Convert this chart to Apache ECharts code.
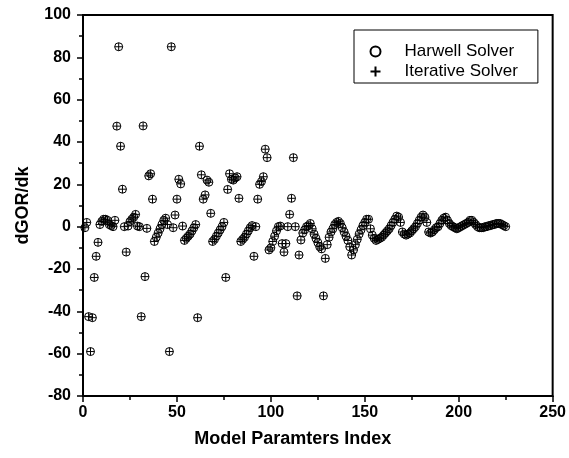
<!DOCTYPE html>
<html>
<head>
<meta charset="utf-8">
<script src="https://cdn.jsdelivr.net/npm/echarts@6/dist/echarts.min.js"></script>
<style>
html,body{margin:0;padding:0;background:#fff;}
#chart{width:569px;height:458px;}
</style>
</head>
<body>
<div id="chart"></div>
<script>
// dGOR/dk values, in index order 1..225 (15 groups of 15)
const group01 = [-0.5, 2, -42.5, -59, -43, -24, -14, -7.4, 1, 2.5, 3.5, 3.5, 3, 1, 0.5];
const group02 = [0, 3, 47.5, 85, 38, 17.7, 0, -12, 0.3, 2.4, 3.5, 4.5, 5.8, 0.3, 0];
const group03 = [-42.5, 47.6, -23.6, -0.8, 24, 25, 13, -7, -5, -3, -1, 1, 3, 4, 1];
const group04 = [-59, 85, -0.5, 5.5, 13, 22.4, 20.2, 0.3, -6.5, -5.5, -4.5, -3.5, -2, -0.5, 1];
const group05 = [-43, 38, 24.5, 13, 15, 22, 21, 6.3, -7, -6, -4.5, -3, -1.5, 0, 2];
const group06 = [-24, 17.6, 25, 22.4, 22, 23, 23.6, 13.4, -7, -6, -5, -3.5, -2, -0.5, 0.5];
const group07 = [-14, 0, 13, 20, 21.3, 23.6, 36.6, 32.6, -11, -10, -7, -4.5, -2, 0, 0.3];
const group08 = [-8, -12, -8, 0, 5.8, 13.4, 32.6, 0, -32.7, -13.4, -6.3, -3, -1.5, 0, 0.5];
const group09 = [1.5, -1, -3.5, -5.5, -7.5, -9.5, -10.5, -32.7, -15, -8.5, -5, -2.5, -1, 1, 2];
const group10 = [2.5, 1.5, -0.5, -2.5, -4.5, -6.5, -9.5, -13.4, -11, -8.5, -6, -3.5, -1.5, 0.5, 2];
const group11 = [3.5, 3.5, -1, -4, -5.5, -6.5, -6, -5.5, -5, -4, -3, -2, -1, 0.5, 2];
const group12 = [3.5, 5, 4.5, 2, -2.5, -3.5, -4, -3.5, -3, -2, -1, 0, 1.5, 3, 4.5];
const group13 = [5.5, 4.5, 2, -2.5, -3, -2.5, -1.5, -0.5, 0, 1.5, 3, 4, 4.5, 3, 1.5];
const group14 = [0.5, 0, -0.5, -1, -0.5, 0, 0.5, 1, 1.5, 2, 3, 3, 2, 1, 0];
const group15 = [-0.5, -0.5, -0.5, 0, 0, 0.5, 0.5, 1, 1, 1.5, 1.5, 1.5, 1, 0.5, 0];

const harwellValues = [].concat(group01, group02, group03, group04, group05, group06, group07,
  group08, group09, group10, group11, group12, group13, group14, group15);
// The iterative solver results coincide with the Harwell ones in the picture
const iterativeValues = harwellValues.slice();

const seriesNames = ['Harwell Solver', 'Iterative Solver'];
const xTitle = 'Model Paramters Index';
const yTitle = 'dGOR/dk';

const toPairs = vals => vals.map((v, i) => [i + 1, v]);

const FONT = 'Liberation Sans, Arial, sans-serif';
const PLUS = 'path://M1,0 L1,2 M0,1 L2,1';

const chart = echarts.init(document.getElementById('chart'), null, {renderer: 'canvas'});
chart.setOption({
  backgroundColor: '#fff',
  animation: false,
  grid: {
    left: 83, right: 16, top: 15, bottom: 62,
    show: true, borderColor: '#000', borderWidth: 2, backgroundColor: 'transparent'
  },
  legend: {
    orient: 'vertical',
    left: 354, top: 30,
    padding: [13, 20, 3, 14],
    itemGap: 3,
    itemWidth: 10, itemHeight: 10,
    borderColor: '#000', borderWidth: 1,
    backgroundColor: '#fff',
    textStyle: {fontFamily: FONT, fontSize: 17, color: '#000', padding: [0, 0, 0, 19]},
    data: [
      {name: seriesNames[0], icon: 'circle',
       itemStyle: {color: '#fff', borderColor: '#000', borderWidth: 2}},
      {name: seriesNames[1], icon: PLUS,
       itemStyle: {color: 'none', borderColor: '#000', borderWidth: 2}}
    ]
  },
  xAxis: {
    type: 'value', min: 0, max: 250, interval: 50,
    name: xTitle, nameLocation: 'middle', nameGap: 34,
    nameTextStyle: {fontFamily: FONT, fontSize: 18, fontWeight: 'bold', color: '#000', padding: [0, 50, 0, 0]},
    axisLine: {onZero: false, lineStyle: {color: '#000', width: 2}},
    axisTick: {length: 6, lineStyle: {color: '#000', width: 1.5}},
    minorTick: {show: true, splitNumber: 2, length: 4, lineStyle: {color: '#000', width: 1.5}},
    axisLabel: {fontFamily: FONT, fontSize: 16, fontWeight: 'bold', color: '#000', margin: 9},
    splitLine: {show: false}
  },
  yAxis: {
    type: 'value', min: -80, max: 100, interval: 20,
    name: yTitle, nameLocation: 'middle', nameGap: 51,
    nameTextStyle: {fontFamily: FONT, fontSize: 18, fontWeight: 'bold', color: '#000'},
    axisLine: {onZero: false, lineStyle: {color: '#000', width: 2}},
    axisTick: {length: 6, lineStyle: {color: '#000', width: 1.5}},
    minorTick: {show: true, splitNumber: 2, length: 4, lineStyle: {color: '#000', width: 1.5}},
    axisLabel: {fontFamily: FONT, fontSize: 16, fontWeight: 'bold', color: '#000', margin: 12},
    splitLine: {show: false}
  },
  series: [
    {
      name: seriesNames[0], type: 'scatter',
      symbol: 'circle', symbolSize: 8,
      itemStyle: {color: 'transparent', borderColor: '#000', borderWidth: 1, opacity: 1},
      data: toPairs(harwellValues)
    },
    {
      name: seriesNames[1], type: 'scatter',
      symbol: PLUS, symbolSize: 8,
      itemStyle: {color: 'none', borderColor: '#000', borderWidth: 1, opacity: 1},
      data: toPairs(iterativeValues)
    }
  ]
});
</script>
</body>
</html>
